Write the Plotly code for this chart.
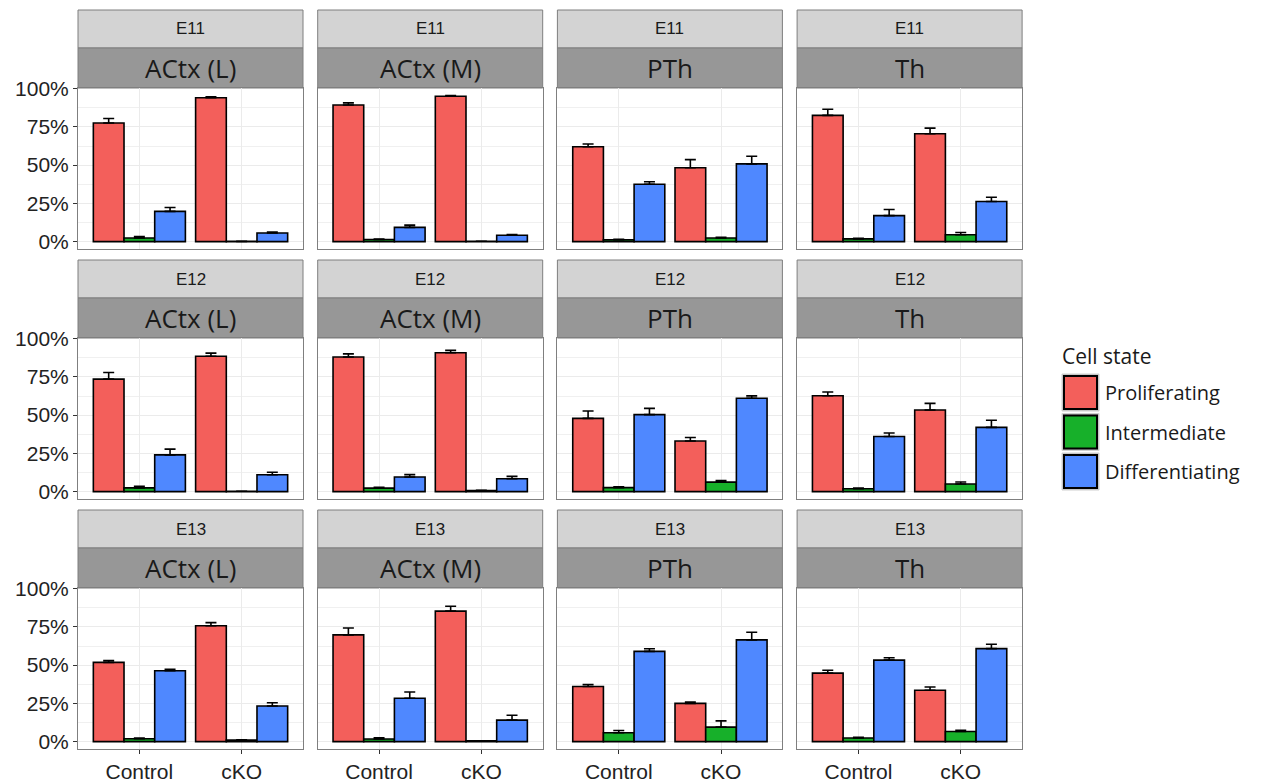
import plotly.graph_objects as go

# ---------------- data ----------------
stages = ["E11", "E12", "E13"]
regions = ["ACtx (L)", "ACtx (M)", "PTh", "Th"]
genotypes = ["Control", "cKO"]
states = ["Proliferating", "Intermediate", "Differentiating"]

# values in %, ordered per stage: region x genotype
# [ACtx(L) Control, ACtx(L) cKO, ACtx(M) Control, ACtx(M) cKO, PTh Control, PTh cKO, Th Control, Th cKO]
prolif_mean = {
    "E11": [77.5, 94.0, 89.3, 95.0, 62.0, 48.3, 82.5, 70.5],
    "E12": [73.5, 88.5, 88.0, 90.8, 47.9, 33.1, 62.7, 53.4],
    "E13": [51.8, 75.7, 69.8, 85.3, 36.0, 25.0, 44.8, 33.6],
}
prolif_se = {
    "E11": [3.0, 0.6, 1.4, 0.4, 1.8, 5.3, 4.0, 3.7],
    "E12": [4.4, 2.0, 2.0, 1.5, 4.8, 2.3, 2.4, 4.3],
    "E13": [1.2, 2.1, 4.5, 3.2, 1.3, 0.8, 1.9, 2.1],
}
inter_mean = {
    "E11": [2.4, 0.2, 1.4, 0.3, 1.2, 2.4, 1.8, 4.5],
    "E12": [2.5, 0.3, 2.3, 0.7, 2.6, 6.2, 1.9, 5.0],
    "E13": [1.9, 1.0, 1.7, 0.5, 5.8, 9.5, 2.4, 6.6],
}
inter_se = {
    "E11": [0.9, 0.0, 0.3, 0.0, 0.3, 0.5, 0.4, 1.5],
    "E12": [1.0, 0.0, 0.6, 0.2, 0.5, 1.0, 0.4, 1.3],
    "E13": [0.4, 0.2, 0.8, 0.0, 1.5, 4.1, 0.4, 0.9],
}
diff_mean = {
    "E11": [19.8, 5.7, 9.3, 4.2, 37.5, 50.8, 17.0, 26.2],
    "E12": [24.0, 11.0, 9.6, 8.4, 50.3, 61.0, 36.0, 42.0],
    "E13": [46.3, 23.3, 28.4, 14.1, 59.0, 66.5, 53.3, 60.8],
}
diff_se = {
    "E11": [2.5, 0.5, 1.5, 0.4, 1.6, 5.0, 4.0, 2.8],
    "E12": [3.8, 1.7, 1.5, 1.6, 4.1, 1.6, 2.3, 4.7],
    "E13": [1.0, 2.1, 4.0, 3.2, 1.7, 5.0, 1.5, 2.8],
}
y_ticks = [0, 25, 50, 75, 100]
y_ticktext = ["0%", "25%", "50%", "75%", "100%"]

state_means = [prolif_mean, inter_mean, diff_mean]
state_ses = [prolif_se, inter_se, diff_se]
state_colors = ["#F35F5B", "#17B02A", "#4F88FF"]

# ---------------- layout geometry (page pixels) ----------------
W, H = 1263, 783
OFF = 0  # body margin removed by post_script below
col_left0, col_step, col_w = 78, 239.7, 225
row_top0, row_step = 10, 250
strip1_h, strip2_h, panel_h = 38, 40, 161


def px_x(x):
    return (x - OFF) / W


def px_y(y):
    return 1 - (y - OFF) / H


fig = go.Figure()
shapes = []
annotations = []
layout_axes = {}

idx = 0
for r, stage in enumerate(stages):
    for c, region in enumerate(regions):
        idx += 1
        xa = "x" if idx == 1 else f"x{idx}"
        ya = "y" if idx == 1 else f"y{idx}"
        xl = col_left0 + col_step * c
        xr = xl + col_w
        s1_top = row_top0 + row_step * r
        s2_top = s1_top + strip1_h
        p_top = s2_top + strip2_h
        p_bot = p_top + panel_h

        for s, state in enumerate(states):
            vals = state_means[s][stage][2 * c:2 * c + 2]
            ses = state_ses[s][stage][2 * c:2 * c + 2]
            fig.add_trace(go.Bar(
                x=genotypes,
                y=[v / 100 for v in vals],
                name=state,
                marker=dict(color=state_colors[s], line=dict(color="black", width=1.6)),
                error_y=dict(type="data", symmetric=False,
                             array=[e / 100 for e in ses],
                             arrayminus=[0 for _ in ses],
                             color="black", thickness=1.6, width=5.5),
                xaxis=xa, yaxis=ya,
                showlegend=False,
                offsetgroup=str(s),
            ))

        xkey = "xaxis" if idx == 1 else f"xaxis{idx}"
        ykey = "yaxis" if idx == 1 else f"yaxis{idx}"
        layout_axes[xkey] = dict(
            domain=[px_x(xl), px_x(xr)],
            anchor=ya,
            type="category",
            categoryorder="array",
            categoryarray=genotypes,
            range=[-0.6, 1.6],
            automargin=False,
            showgrid=True, gridcolor="#EBEBEB", gridwidth=1.2,
            showline=True, mirror=True, linecolor="#7F7F7F", linewidth=1,
            zeroline=False,
            ticks="outside" if r == 2 else "",
            ticklen=4, tickcolor="#333333", tickwidth=1,
            showticklabels=(r == 2),
            tickfont=dict(family="Liberation Sans, Arial", size=21, color="#222222"),
        )
        layout_axes[ykey] = dict(
            domain=[px_y(p_bot), px_y(p_top)],
            anchor=xa,
            range=[-0.048, 1.004],
            automargin=False,
            tickvals=[t / 100 for t in y_ticks],
            ticktext=y_ticktext,
            showgrid=True, gridcolor="#EBEBEB", gridwidth=1.2,
            minor=dict(tickvals=[0.125, 0.375, 0.625, 0.875], showgrid=True,
                       gridcolor="#F0F0F0", gridwidth=0.6, ticks=""),
            showline=True, mirror=True, linecolor="#7F7F7F", linewidth=1,
            zeroline=False,
            ticks="outside" if c == 0 else "",
            ticklen=4, tickcolor="#333333", tickwidth=1,
            showticklabels=(c == 0),
            tickfont=dict(family="Liberation Sans, Arial", size=21, color="#222222"),
        )

        # strips
        shapes.append(dict(type="rect", xref="paper", yref="paper",
                           x0=px_x(xl), x1=px_x(xr), y0=px_y(s2_top), y1=px_y(s1_top),
                           fillcolor="#D3D3D3", line=dict(color="#7F7F7F", width=1), layer="below"))
        shapes.append(dict(type="rect", xref="paper", yref="paper",
                           x0=px_x(xl), x1=px_x(xr), y0=px_y(p_top), y1=px_y(s2_top),
                           fillcolor="#979797", line=dict(color="#7F7F7F", width=1), layer="below"))
        annotations.append(dict(xref="paper", yref="paper",
                                x=px_x((xl + xr) / 2), y=px_y((s1_top + s2_top) / 2),
                                text=stage, showarrow=False, xanchor="center", yanchor="middle",
                                font=dict(family="Liberation Sans, Arial", size=17, color="#1A1A1A")))
        annotations.append(dict(xref="paper", yref="paper",
                                x=px_x((xl + xr) / 2), y=px_y((s2_top + p_top) / 2),
                                text=region, showarrow=False, xanchor="center", yanchor="middle",
                                font=dict(family="Open Sans", size=26, color="#1A1A1A")))

# ---------------- custom legend ----------------
leg_x0, leg_key = 1062, 37
leg_top0, leg_step = 374, 39.5
annotations.append(dict(xref="paper", yref="paper", x=px_x(1060), y=px_y(356),
                        text="Cell state", showarrow=False, xanchor="left", yanchor="middle",
                        font=dict(family="Open Sans", size=21, color="#1A1A1A")))
for s, state in enumerate(states):
    t = leg_top0 + leg_step * s
    shapes.append(dict(type="rect", xref="paper", yref="paper",
                       x0=px_x(leg_x0), x1=px_x(leg_x0 + leg_key),
                       y0=px_y(t + leg_key), y1=px_y(t),
                       fillcolor="#BFBFBF", line=dict(color="#CFCFCF", width=1)))
    shapes.append(dict(type="rect", xref="paper", yref="paper",
                       x0=px_x(leg_x0 + 2), x1=px_x(leg_x0 + leg_key - 2),
                       y0=px_y(t + leg_key - 2), y1=px_y(t + 2),
                       fillcolor=state_colors[s], line=dict(color="black", width=2)))
    annotations.append(dict(xref="paper", yref="paper", x=px_x(1103), y=px_y(t + leg_key / 2),
                            text=state, showarrow=False, xanchor="left", yanchor="middle",
                            font=dict(family="Open Sans", size=20, color="#1A1A1A")))

fig.update_layout(
    width=W, height=H,
    margin=dict(l=0, r=0, t=0, b=0, pad=0),
    paper_bgcolor="white", plot_bgcolor="white",
    barmode="group", bargap=0.1, bargroupgap=0,
    shapes=shapes, annotations=annotations,
    showlegend=False,
    **layout_axes,
)

fig.write_html(
    "out.html",
    config={"displayModeBar": False},
    post_script="document.body.style.margin='0';document.body.style.overflow='hidden';",
)
